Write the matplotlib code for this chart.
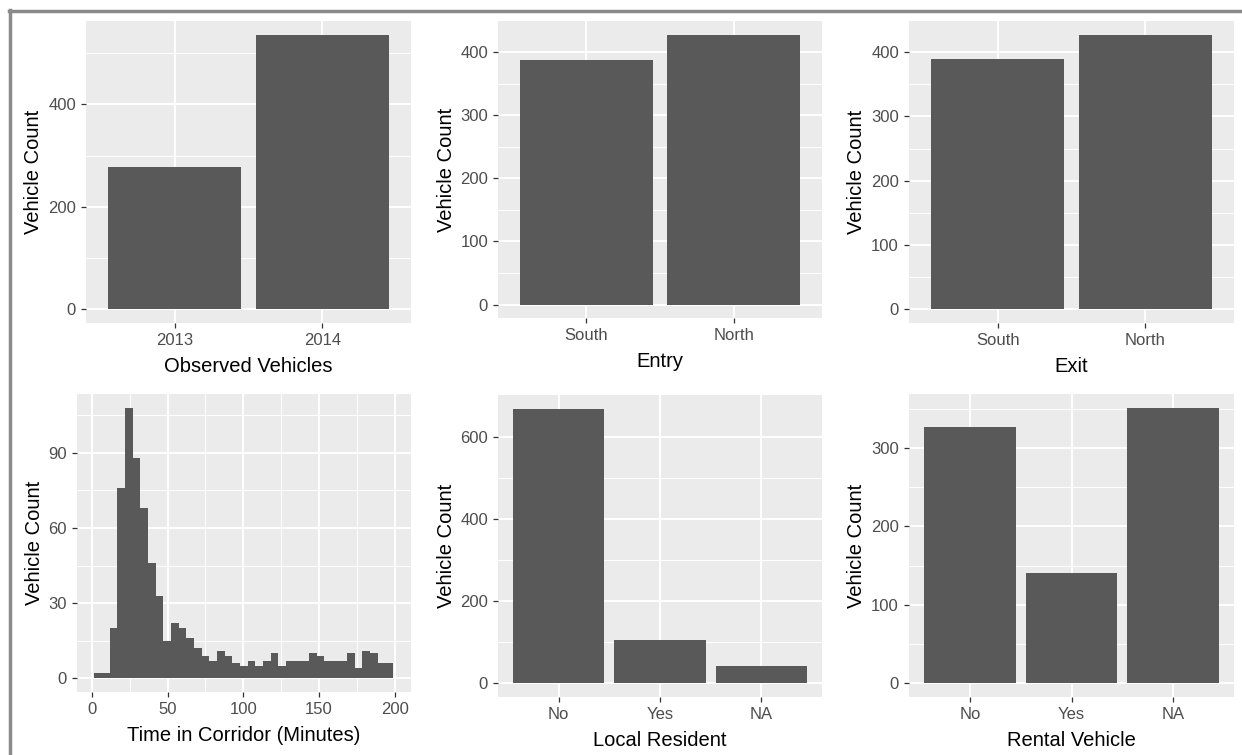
import numpy as np
import matplotlib
matplotlib.use("Agg")
import matplotlib.pyplot as plt
from matplotlib.lines import Line2D

plt.rcParams['font.family'] = ['Liberation Sans', 'DejaVu Sans']

# values
year_labels = ['2013', '2014']
year_counts = [277, 536]

entry_labels = ['South', 'North']
entry_counts = [388, 428]

exit_labels = ['South', 'North']
exit_counts = [389, 427]

resident_labels = ['No', 'Yes', 'NA']
resident_counts = [668, 105, 41]

rental_labels = ['No', 'Yes', 'NA']
rental_counts = [327, 140, 351]

# histogram of time in corridor, 39 bins
time_first_edge = 1.5
time_last_edge = 199.0
time_counts = [2, 2, 20, 76, 108, 88, 68, 46, 33, 15, 22, 20, 16, 12, 9, 7,
               11, 9, 6, 5, 7, 5, 7, 10, 5, 7, 7, 7, 10, 9, 7, 7, 7, 10, 4,
               11, 10, 6, 6]

W, H = 1242, 755
BAR = '#595959'
PANEL = '#EBEBEB'


def px_rect(left, top, right, bottom):
    return [left / W, 1 - bottom / H, (right - left) / W, (bottom - top) / H]


def style(ax, ymax, yticks, yminor, box, ylab_off=42.5):
    ax.set_facecolor(PANEL)
    for s in ax.spines.values():
        s.set_visible(False)
    ax.set_ylim(-0.05 * ymax, 1.05 * ymax)
    ax.set_yticks(yticks)
    ax.set_yticks(yminor, minor=True)
    ax.grid(which='major', color='white', lw=1.4)
    ax.grid(which='minor', color='white', lw=0.7)
    ax.set_axisbelow(True)
    ax.tick_params(which='major', length=3.6, width=0.9, color='#333333',
                   labelsize=12, labelcolor='#4D4D4D', pad=3.6)
    ax.tick_params(which='minor', length=0)
    ax.set_ylabel('Vehicle Count', fontsize=14.5, color='black')
    w = box[2] - box[0]
    h = box[3] - box[1]
    ax.yaxis.set_label_coords(-ylab_off / w, 0.5)
    ax.xaxis.set_label_coords(0.5, -34 / h)


def bar_panel(fig, box, labels, counts, xlabel, yticks, yminor):
    ax = fig.add_axes(px_rect(*box))
    x = np.arange(1, len(labels) + 1)
    ax.bar(x, counts, width=0.9, color=BAR, zorder=2)
    ax.set_xlim(0.4, len(labels) + 0.6)
    ax.set_xticks(x)
    ax.set_xticklabels(labels)
    style(ax, max(counts), yticks, yminor, box)
    ax.set_xlabel(xlabel, fontsize=14.5, color='black')
    return ax


fig = plt.figure(figsize=(W / 100, H / 100), dpi=100)
fig.patch.set_facecolor('white')

bar_panel(fig, (86, 21, 411, 323), year_labels, year_counts,
          'Observed Vehicles', [0, 200, 400], [100, 300, 500])
bar_panel(fig, (498, 21, 822, 318), entry_labels, entry_counts,
          'Entry', [0, 100, 200, 300, 400], [50, 150, 250, 350])
bar_panel(fig, (909, 21, 1234, 323), exit_labels, exit_counts,
          'Exit', [0, 100, 200, 300, 400], [50, 150, 250, 350])
bar_panel(fig, (498, 395, 822, 697), resident_labels, resident_counts,
          'Local Resident', [0, 200, 400, 600], [100, 300, 500])
bar_panel(fig, (909, 394, 1234, 697), rental_labels, rental_counts,
          'Rental Vehicle', [0, 100, 200, 300], [50, 150, 250, 350])

# histogram panel
hbox = (77, 394, 411, 692)
ax = fig.add_axes(px_rect(*hbox))
edges = np.linspace(time_first_edge, time_last_edge, len(time_counts) + 1)
ax.bar(edges[:-1], time_counts, width=np.diff(edges), align='edge',
       color=BAR, zorder=2)
ax.set_xlim(-9.9, 210.8)
ax.set_xticks([0, 50, 100, 150, 200])
ax.set_xticks([25, 75, 125, 175], minor=True)
style(ax, max(time_counts), [0, 30, 60, 90], [15, 45, 75, 105], hbox,
      ylab_off=33.5)
ax.set_xlabel('Time in Corridor (Minutes)', fontsize=14.5, color='black')

# outer frame (top and left edges only)
fig.add_artist(Line2D([9 / W, 1], [1 - 11 / H, 1 - 11 / H],
                      transform=fig.transFigure, color='#8a8a8a', lw=2.5))
fig.add_artist(Line2D([10 / W, 10 / W], [0, 1 - 10 / H],
                      transform=fig.transFigure, color='#8a8a8a', lw=2.5))

fig.savefig('out.png', dpi=100)
